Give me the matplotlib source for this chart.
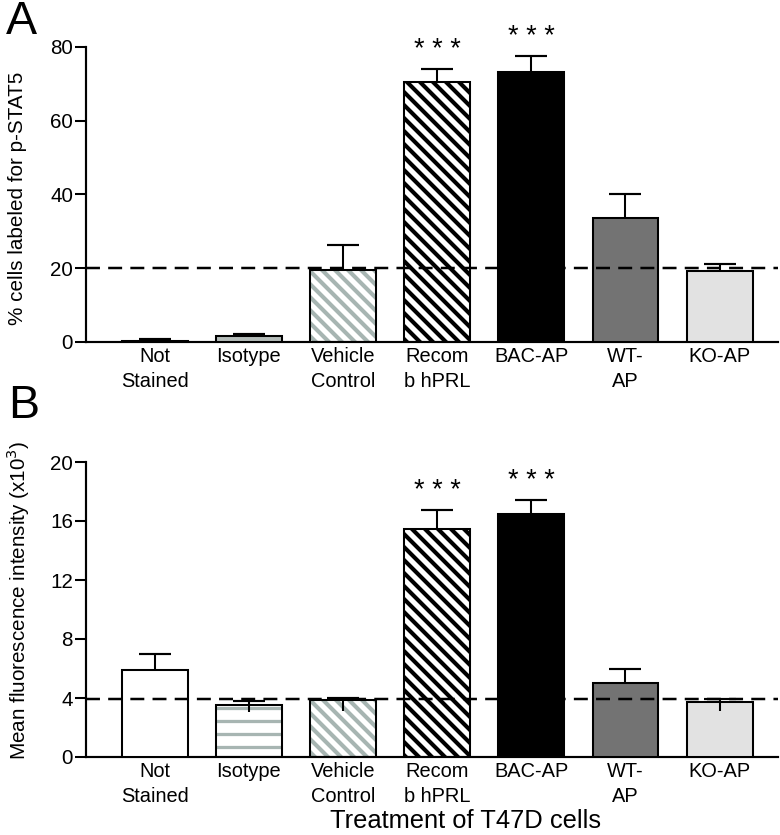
import matplotlib
matplotlib.use("Agg")
import matplotlib.pyplot as plt
import numpy as np

# ---------------- data ----------------
categories = ["Not\nStained", "Isotype", "Vehicle\nControl", "Recom\nb hPRL",
              "BAC-AP", "WT-\nAP", "KO-AP"]

pct_values = [0.4, 1.7, 19.6, 70.5, 73.1, 33.5, 19.3]
pct_err_up = [0.3, 0.6, 6.8, 3.5, 4.4, 6.6, 1.9]
pct_err_low = [0, 0, 0, 0, 0, 0, 0]
pct_ref = 20
pct_yticks = [0, 20, 40, 60, 80]
pct_sig = [None, None, None, "* * *", "* * *", None, None]

mfi_values = [5.9, 3.5, 3.85, 15.45, 16.5, 5.05, 3.75]
mfi_err_up = [1.1, 0.3, 0.15, 1.3, 0.95, 0.95, 0.2]
mfi_err_low = [0, 0.45, 0.7, 0, 0, 0, 0.6]
mfi_ref = 3.9
mfi_yticks = [0, 4, 8, 12, 16, 20]
mfi_sig = [None, None, None, "* * *", "* * *", None, None]

# ---------------- styles ----------------
DPI = 78
W, H = 780, 835
plt.rcParams["hatch.linewidth"] = 3.8
FONT = ["Liberation Sans", "DejaVu Sans"]
plt.rcParams["font.family"] = FONT

GRAY_HATCH = "#a7b5b2"
styles_A = [
    dict(fc="white", hatch=None, hc=None),
    dict(fc="#b4bcb9", hatch=None, hc=None),
    dict(fc="white", hatch="\\\\", hc=GRAY_HATCH),
    dict(fc="white", hatch="\\\\", hc="black"),
    dict(fc="black", hatch=None, hc=None),
    dict(fc="#737373", hatch=None, hc=None),
    dict(fc="#e2e2e2", hatch=None, hc=None),
]
styles_B = [
    dict(fc="white", hatch=None, hc=None),
    dict(fc="white", hatch="-", hc=GRAY_HATCH),
    dict(fc="white", hatch="\\\\", hc=GRAY_HATCH),
    dict(fc="white", hatch="\\\\", hc="black"),
    dict(fc="black", hatch=None, hc=None),
    dict(fc="#737373", hatch=None, hc=None),
    dict(fc="#e2e2e2", hatch=None, hc=None),
]

fig = plt.figure(figsize=(W / DPI, H / DPI), dpi=DPI)


def px_axes(left, top, right, bottom):
    return fig.add_axes([left / W, 1 - bottom / H, (right - left) / W, (bottom - top) / H])


def panel(ax, values, err_up, err_low, ref, yticks, sig, styles, sig_offset):
    x = np.arange(len(values))
    bw = 0.70
    lw = 1.9
    for xi, v, st in zip(x, values, styles):
        if st["hatch"]:
            hlw = 3.0 if st["hatch"] == "-" else 3.8
            with plt.rc_context({"hatch.linewidth": hlw}):
                ax.bar(xi, v, bw, color=st["fc"], edgecolor=st["hc"], hatch=st["hatch"],
                       linewidth=0, zorder=2)
            ax.bar(xi, v, bw, fill=False, edgecolor="black", linewidth=lw, zorder=3)
        else:
            ax.bar(xi, v, bw, color=st["fc"], edgecolor="black", linewidth=lw, zorder=3)
    vals = np.array(values)
    up = np.array(err_up)
    low = np.array(err_low)
    ax.vlines(x, vals, vals + up, color="black", linewidth=1.9, zorder=4)
    ax.hlines(vals + up, x - 0.17, x + 0.17, color="black", linewidth=2.0, zorder=4)
    m = low > 0
    ax.vlines(x[m], vals[m] - low[m], vals[m], color="black", linewidth=1.9, zorder=4)
    ax.axhline(ref, color="black", linewidth=2.3, dashes=(5.6, 3.3), zorder=5)
    for xi, v, e, s in zip(x, values, err_up, sig):
        if s:
            ax.text(xi, v + e + sig_offset, s, ha="center", va="bottom",
                    fontsize=25, clip_on=False)
    ax.set_xlim(-0.73, 6.62)
    ax.set_ylim(yticks[0], yticks[-1])
    ax.set_yticks(yticks)
    ax.set_xticks(x)
    ax.set_xticklabels(categories, fontsize=18.5, linespacing=1.35)
    for lab in ax.get_yticklabels():
        lab.set_fontsize(19)
    ax.tick_params(axis="x", length=0, pad=5)
    ax.tick_params(axis="y", length=10, width=1.9, pad=2)
    for s in ["top", "right"]:
        ax.spines[s].set_visible(False)
    for s in ["left", "bottom"]:
        ax.spines[s].set_linewidth(2.0)


axA = px_axes(86, 47, 778, 342)
panel(axA, pct_values, pct_err_up, pct_err_low, pct_ref, pct_yticks, pct_sig, styles_A, 1.6)

axB = px_axes(86, 462, 778, 757)
panel(axB, mfi_values, mfi_err_up, mfi_err_low, mfi_ref, mfi_yticks, mfi_sig, styles_B, 0.4)

fig.text(18 / W, 1 - 198 / H, "% cells labeled for p-STAT5", rotation=90,
         ha="center", va="center", fontsize=19)
fig.text(18 / W, 1 - 600 / H, "Mean fluorescence intensity (x10$^{3}$)", rotation=90,
         ha="center", va="center", fontsize=19)
fig.text(6 / W, 1 - 22 / H, "A", ha="left", va="center", fontsize=43)
fig.text(8 / W, 1 - 406 / H, "B", ha="left", va="center", fontsize=43)
fig.text(465 / W, 1 - 821 / H, "Treatment of T47D cells", ha="center", va="center",
         fontsize=23.5)

fig.savefig("out.png", dpi=DPI)
